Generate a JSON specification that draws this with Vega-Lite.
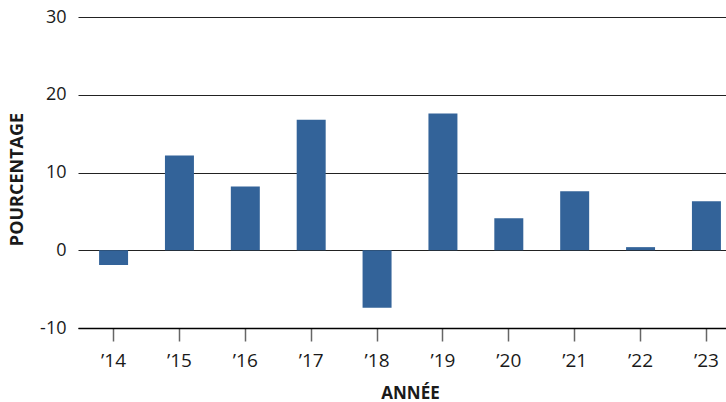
{
  "$schema": "https://vega.github.io/schema/vega-lite/v6.json",
  "width": 664,
  "height": 311,
  "autosize": "none",
  "padding": {"left": 78, "top": 17, "right": 0, "bottom": 74},
  "background": "white",
  "config": {
    "view": {"stroke": null},
    "font": "Open Sans",
    "axis": {"labelFont": "Open Sans", "titleFont": "Open Sans", "labelColor": "#1a1a1a", "titleColor": "#1a1a1a"}
  },
  "data": {
    "values": [
      {"annee": "’14", "pct": -1.9},
      {"annee": "’15", "pct": 12.2},
      {"annee": "’16", "pct": 8.2},
      {"annee": "’17", "pct": 16.8},
      {"annee": "’18", "pct": -7.4},
      {"annee": "’19", "pct": 17.6},
      {"annee": "’20", "pct": 4.1},
      {"annee": "’21", "pct": 7.6},
      {"annee": "’22", "pct": 0.4},
      {"annee": "’23", "pct": 6.3}
    ]
  },
  "mark": {"type": "bar", "color": "#336399"},
  "encoding": {
    "x": {
      "field": "annee",
      "type": "nominal",
      "sort": null,
      "scale": {"paddingInner": 0.56, "paddingOuter": 0.32},
      "axis": {
        "title": "ANNÉE",
        "titleFontSize": 17,
        "titleFontWeight": "bold",
        "titlePadding": 15,
        "labelAngle": 0,
        "labelFontSize": 19,
        "labelPadding": 10,
        "tickSize": 13,
        "tickColor": "#666666",
        "tickWidth": 1.5,
        "domain": true,
        "domainColor": "#000000",
        "domainWidth": 1.5,
        "grid": false
      }
    },
    "y": {
      "field": "pct",
      "type": "quantitative",
      "scale": {"domain": [-10, 30], "nice": false},
      "axis": {
        "title": "POURCENTAGE",
        "titleFontSize": 18,
        "titleFontWeight": "bold",
        "titlePadding": 13,
        "titleY": 162,
        "values": [-10, 0, 10, 20, 30],
        "labelExpr": "replace(datum.label, '−', '-')",
        "labelFontSize": 18,
        "labelPadding": 12,
        "ticks": false,
        "domain": false,
        "grid": true,
        "gridColor": "#222222",
        "gridWidth": 1.2,
        "gridOpacity": 1
      }
    }
  }
}
